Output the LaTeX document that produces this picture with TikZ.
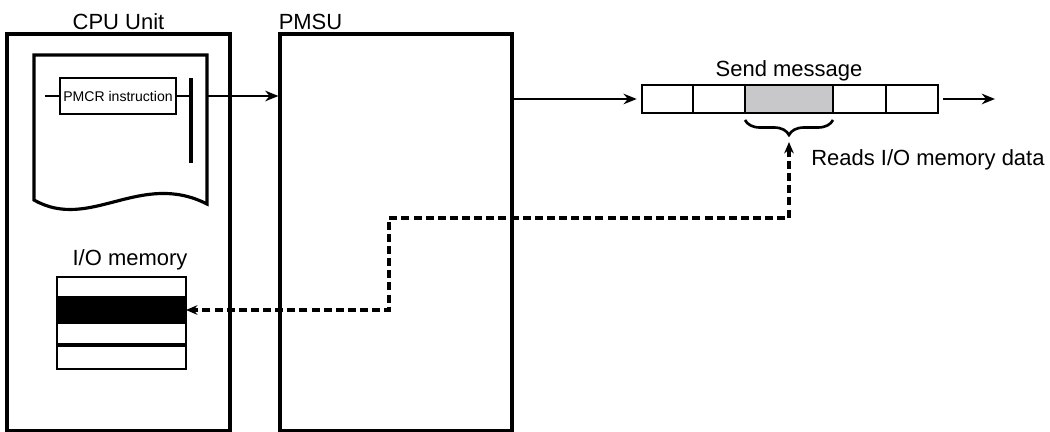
\documentclass[tikz,border=0pt]{standalone}
\usepackage{fontspec}
\setmainfont{Liberation Sans}
\usepackage{tikz}
\usetikzlibrary{arrows.meta, positioning, decorations.pathreplacing}
\definecolor{cellgray}{RGB}{200,200,202}
\tikzset{
  unitbox/.style={rectangle, draw, line width=1.8pt, minimum width=#1,
    minimum height=7.94cm, inner sep=0pt},
  instbox/.style={rectangle, draw, line width=1.6pt, minimum width=2.32cm,
    minimum height=0.72cm, inner sep=0pt, font=\fontsize{8}{9}\selectfont},
  cell/.style={rectangle, draw, line width=1pt, minimum width=#1,
    minimum height=0.56cm, inner sep=0pt, outer sep=0pt},
  memrow/.style={rectangle, draw, line width=1.4pt, minimum width=2.58cm,
    minimum height=#1, inner sep=0pt, outer sep=0pt},
  flow/.style={-{Stealth[length=7.5pt, width=6pt]}, line width=1.6pt},
  dflow/.style={{Stealth[length=6.5pt, width=5.5pt]}-{Stealth[length=6.5pt, width=5.5pt]},
    line width=1.9pt, dash pattern=on 4.5pt off 2.4pt},
  lbl/.style={font=\fontsize{12.5}{14}\selectfont, inner sep=0pt}
}

\begin{document}
\begin{tikzpicture}
  \useasboundingbox (0,0) rectangle (21,-8.64);

  % CPU Unit and PMSU boxes
  \node[unitbox=4.46cm] (cpu) at (2.37,-4.65) {};
  \node[unitbox=4.64cm] (pmsu) at (7.92,-4.65) {};
  \node[lbl, above=1.5pt of cpu] (cputitle) {CPU Unit};
  \node[lbl, above right=1.5pt and 0pt of pmsu.north west] (pmsutitle) {PMSU};

  % ladder program sheet
  \draw[line width=1.8pt] (0.68,-1.10) -- (0.68,-4.0)
    .. controls (1.8,-4.64) and (2.8,-3.40) .. (4.14,-4.08) -- (4.14,-1.10) -- cycle;
  \node[instbox] (pmcr) at (2.36,-1.92) {PMCR instruction};
  \coordinate (rungL) at (0.90,-1.92);
  \coordinate (railtop) at (3.82,-1.56);
  \coordinate (railbot) at (3.82,-3.26);
  \coordinate (docout) at (4.14,-1.92);
  \draw[line width=1.6pt] (rungL) -- (pmcr.west);
  \draw[line width=1.6pt] (pmcr.east) -- (pmcr.east -| railtop);
  \draw[line width=1.8pt] (railtop) -- (railbot);
  \draw[flow] (docout) -- (docout -| pmsu.west);

  % I/O memory
  \node[memrow=0.40cm] (row1) at (2.43,-5.74) {};
  \node[memrow=0.52cm, fill=black, below=0pt of row1] (row2) {};
  \node[memrow=0.44cm, below=0pt of row2] (row3) {};
  \node[memrow=0.48cm, below=0pt of row3] (row4) {};
  \draw[line width=2.2pt] (row3.south west) -- (row3.south east);
  \node[lbl, above=4pt of row1, xshift=0.17cm] (memtitle) {I/O memory};

  % Send message frame
  \node[cell=1.02cm] (c1) at (13.35,-1.98) {};
  \node[cell=1.04cm, right=0pt of c1] (c2) {};
  \node[cell=1.76cm, fill=cellgray, right=0pt of c2] (c3) {};
  \node[cell=1.06cm, right=0pt of c3] (c4) {};
  \node[cell=1.04cm, right=0pt of c4] (c5) {};
  \node[lbl, above=2pt of c3] (msgtitle) {Send message};
  \coordinate (msgout) at (19.9,-1.98);
  \draw[flow, shorten >=3pt] (pmsu.east |- c1.west) -- (c1.west);
  \draw[flow, shorten <=3pt] (c5.east) -- (msgout);

  % brace and read path
  \draw[line width=1.5pt, decorate, decoration={brace, mirror, amplitude=0.30cm}]
    ([yshift=-0.14cm]c3.south west) -- ([yshift=-0.14cm]c3.south east);
  \coordinate (bracetip) at ([yshift=-0.58cm]c3.south);
  \coordinate (turn) at (7.78,-4.36);
  \draw[dflow] (bracetip) |- (turn) |- (row2.east);
  \node[lbl, anchor=west] (readlbl) at (16.22,-3.2) {Reads I/O memory data};
\end{tikzpicture}
\end{document}
